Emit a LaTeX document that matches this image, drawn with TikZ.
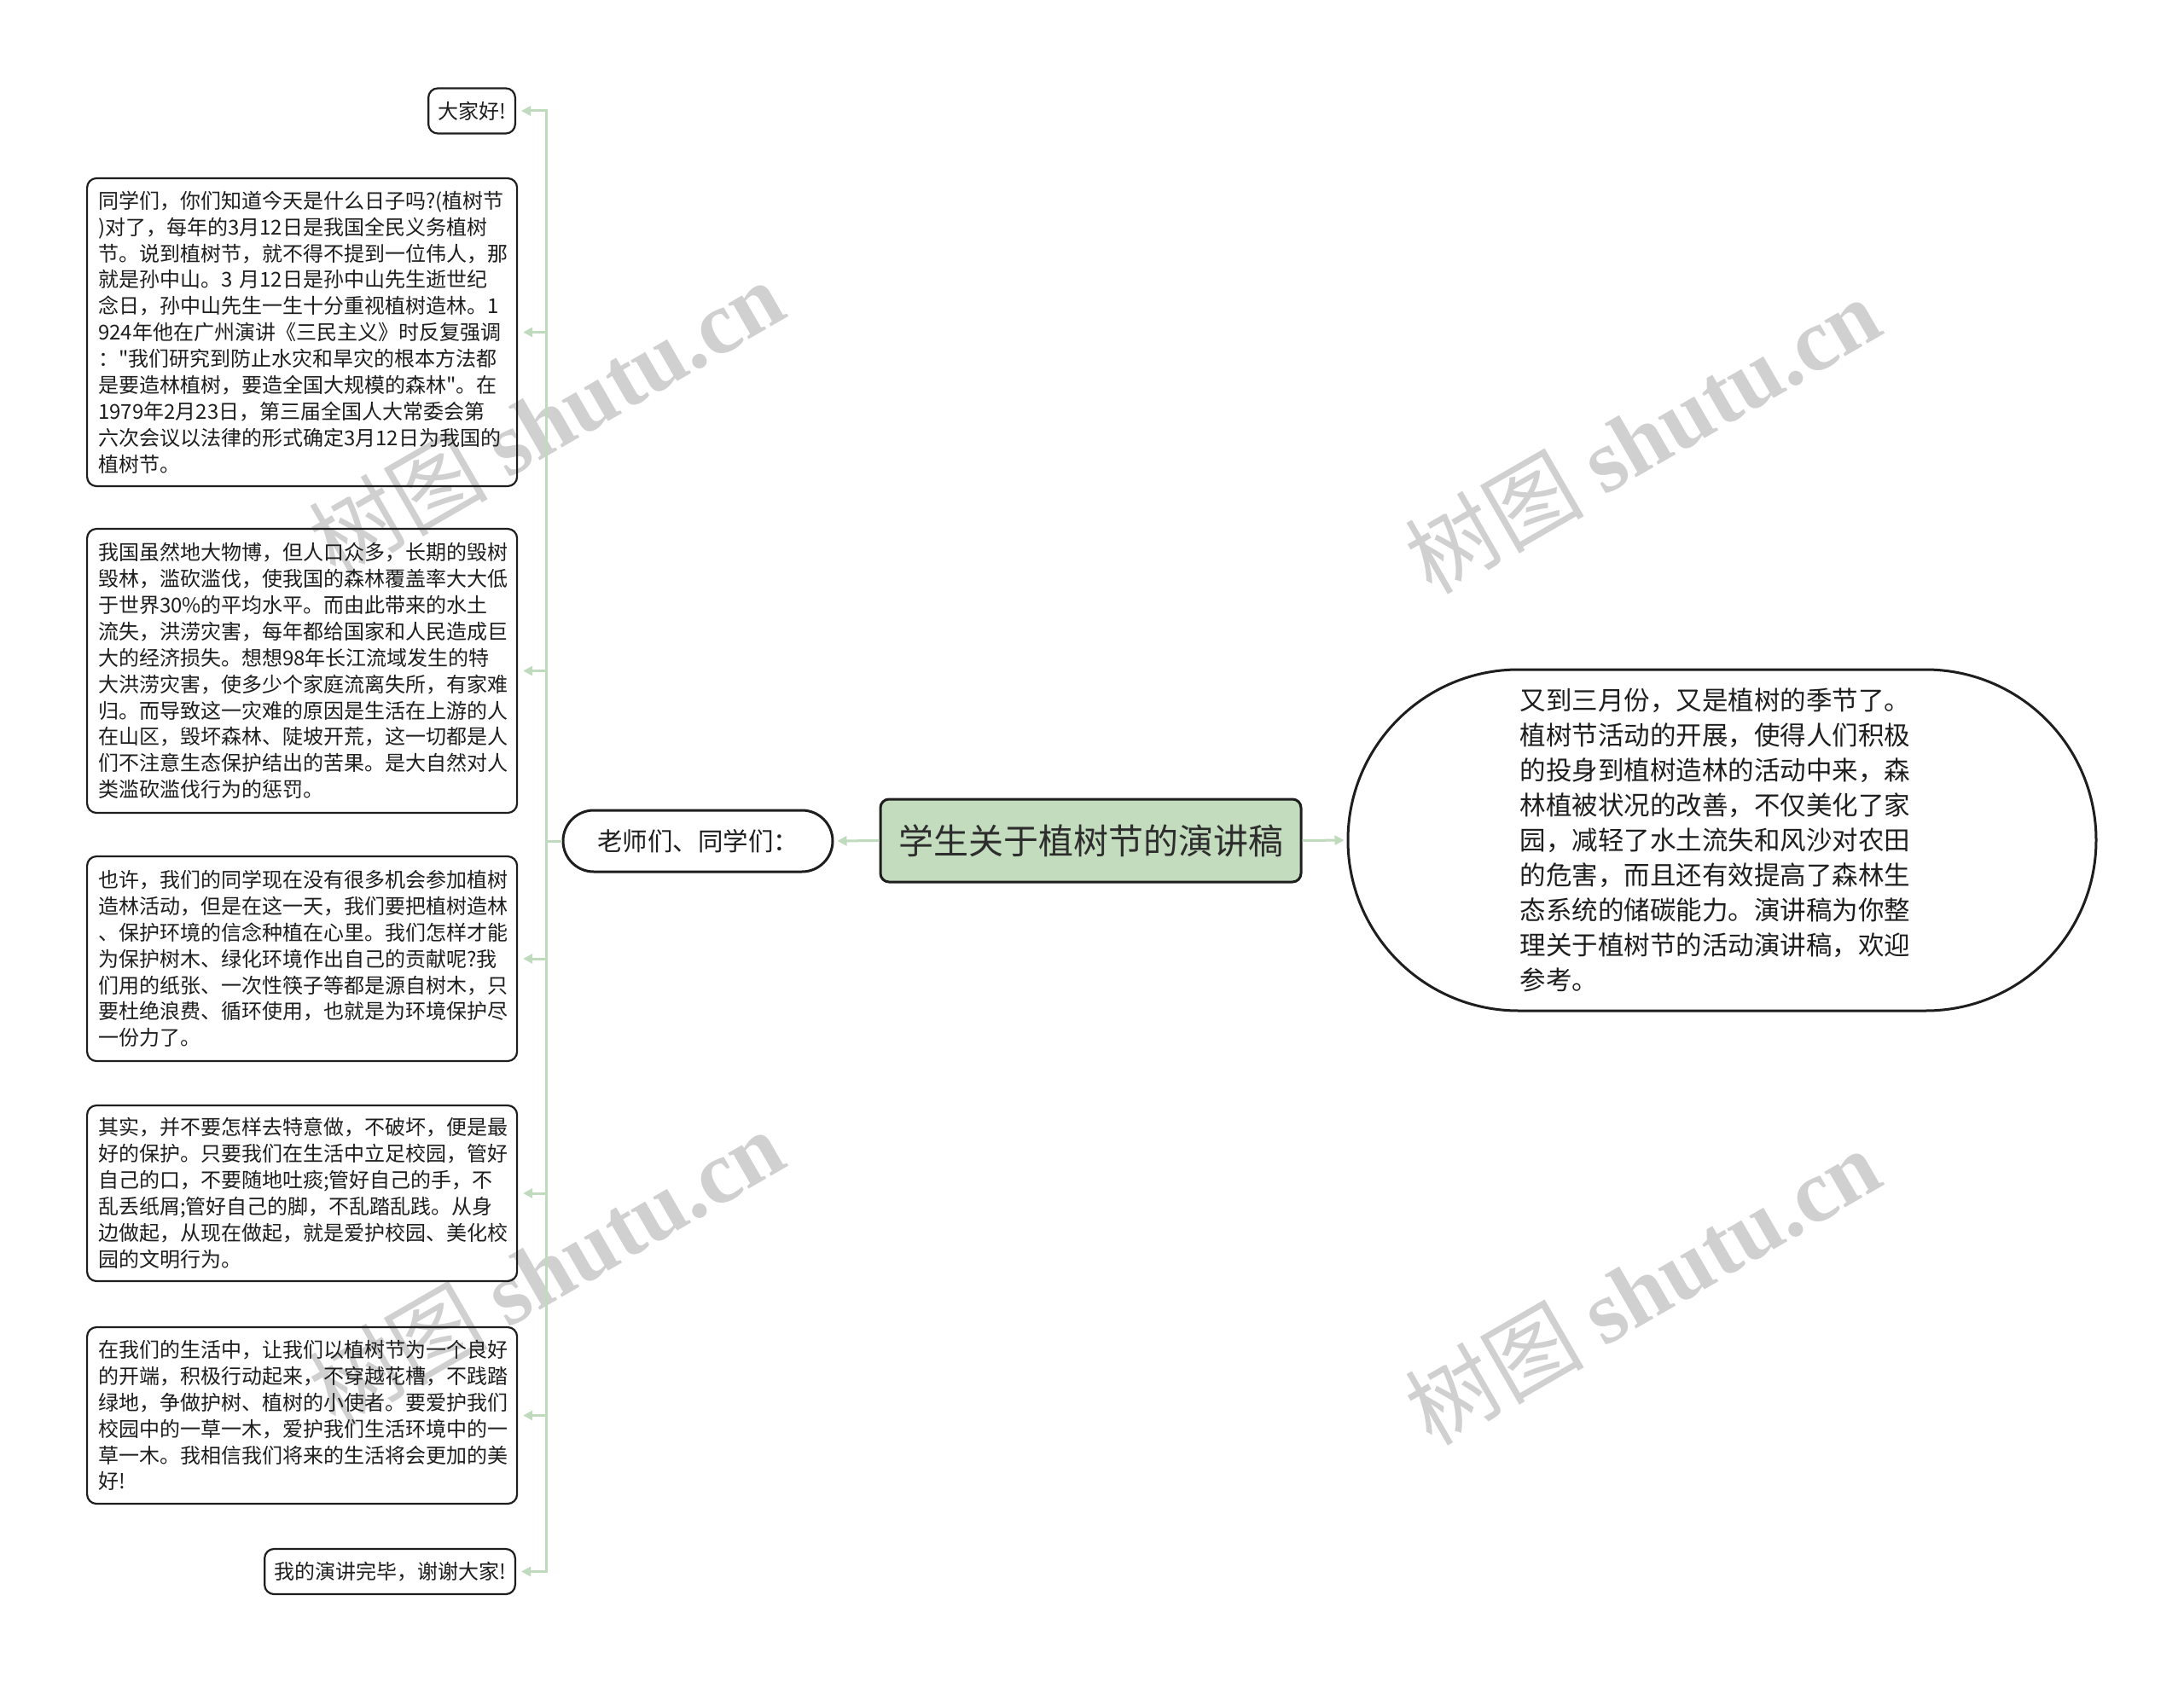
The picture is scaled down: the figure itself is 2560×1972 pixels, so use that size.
\documentclass[tikz,border=0pt]{standalone}
\usepackage{fontspec}
\setmainfont{Noto Sans CJK SC}[Ligatures=TeXOff]
\newfontfamily\wmlatin{Liberation Serif}
\usetikzlibrary{arrows.meta,shapes.misc}
\definecolor{connc}{RGB}{191,218,188}
\definecolor{rootfill}{RGB}{195,220,190}
\definecolor{inkc}{RGB}{30,30,30}
\definecolor{wmc}{RGB}{208,208,208}
\begin{document}
\begin{tikzpicture}[x=1pt,y=-1pt,
  leaf/.style={draw=inkc, line width=2.2pt, rounded corners=11pt, align=left, text=inkc,
    font=\fontsize{24}{30.9}\selectfont, inner xsep=13pt, inner ysep=0pt},
  bigleaf/.style={leaf, anchor=west, text width=478pt},
  smallleaf/.style={leaf, anchor=east, inner xsep=11pt, minimum height=53pt},
  rootbox/.style={draw=inkc, line width=3pt, rounded corners=10pt, fill=rootfill,
    text={rgb,255:red,45;green,45;blue,45}, font=\fontsize{41}{48}\selectfont,
    minimum width=493pt, minimum height=97pt, inner sep=0pt},
  pill/.style={rounded rectangle, draw=inkc, line width=3pt, text=inkc, inner sep=0pt},
  conn/.style={draw=connc, line width=3pt, -{Triangle[length=11pt,width=11pt]}},
  wm/.style={rotate=30, text=wmc, font=\fontsize{105}{110}\selectfont, inner sep=0pt}
]
\useasboundingbox (0,0) rectangle (2560,1972);
\fill[white] (0,0) rectangle (2560,1972);

% watermarks
\node[wm] (wm1) at (640,490) {树图 {\wmlatin\bfseries shutu.cn}};
\node[wm] (wm2) at (1925,510) {树图 {\wmlatin\bfseries shutu.cn}};
\node[wm] (wm3) at (640,1486) {树图 {\wmlatin\bfseries shutu.cn}};
\node[wm] (wm4) at (1925,1508) {树图 {\wmlatin\bfseries shutu.cn}};

% central nodes
\node[rootbox] (root) at (1278.5,985.5) {学生关于植树节的演讲稿};
\node[pill, minimum width=316pt, minimum height=72pt, font=\fontsize{29.5}{34}\selectfont]
  (lsm) at (818,986) {老师们、同学们：};
\node[pill, minimum width=877pt, minimum height=400pt, text width=474pt, align=left,
  font=\fontsize{30.5}{41}\selectfont] (intro) at (2018.5,985)
  {又到三月份，又是植树的季节了。\\植树节活动的开展，使得人们积极\\的投身到植树造林的活动中来，森\\林植被状况的改善，不仅美化了家\\园，减轻了水土流失和风沙对农田\\的危害，而且还有效提高了森林生\\态系统的储碳能力。演讲稿为你整\\理关于植树节的活动演讲稿，欢迎\\参考。};

% leaves
\node[smallleaf] (l1) at (605,130) {大家好!};
\node[bigleaf, minimum height=361pt] (l2) at (101,389.5)
  {同学们，你们知道今天是什么日子吗?(植树节\\)对了，每年的3月12日是我国全民义务植树\\节。说到植树节，就不得不提到一位伟人，那\\就是孙中山。3 月12日是孙中山先生逝世纪\\念日，孙中山先生一生十分重视植树造林。1\\924年他在广州演讲《三民主义》时反复强调\\："我们研究到防止水灾和旱灾的根本方法都\\是要造林植树，要造全国大规模的森林"。在\\1979年2月23日，第三届全国人大常委会第\\六次会议以法律的形式确定3月12日为我国的\\植树节。};
\node[bigleaf, minimum height=333pt] (l3) at (101,786.5)
  {我国虽然地大物博，但人口众多，长期的毁树\\毁林，滥砍滥伐，使我国的森林覆盖率大大低\\于世界30\%的平均水平。而由此带来的水土\\流失，洪涝灾害，每年都给国家和人民造成巨\\大的经济损失。想想98年长江流域发生的特\\大洪涝灾害，使多少个家庭流离失所，有家难\\归。而导致这一灾难的原因是生活在上游的人\\在山区，毁坏森林、陡坡开荒，这一切都是人\\们不注意生态保护结出的苦果。是大自然对人\\类滥砍滥伐行为的惩罚。};
\node[bigleaf, minimum height=240pt] (l4) at (101,1124)
  {也许，我们的同学现在没有很多机会参加植树\\造林活动，但是在这一天，我们要把植树造林\\、保护环境的信念种植在心里。我们怎样才能\\为保护树木、绿化环境作出自己的贡献呢?我\\们用的纸张、一次性筷子等都是源自树木，只\\要杜绝浪费、循环使用，也就是为环境保护尽\\一份力了。};
\node[bigleaf, minimum height=206pt] (l5) at (101,1399)
  {其实，并不要怎样去特意做，不破坏，便是最\\好的保护。只要我们在生活中立足校园，管好\\自己的口，不要随地吐痰;管好自己的手，不\\乱丢纸屑;管好自己的脚，不乱踏乱践。从身\\边做起，从现在做起，就是爱护校园、美化校\\园的文明行为。};
\node[bigleaf, minimum height=207pt] (l6) at (101,1659.5)
  {在我们的生活中，让我们以植树节为一个良好\\的开端，积极行动起来，不穿越花槽，不践踏\\绿地，争做护树、植树的小使者。要爱护我们\\校园中的一草一木，爱护我们生活环境中的一\\草一木。我相信我们将来的生活将会更加的美\\好!};
\node[smallleaf] (l7) at (605,1842.5) {我的演讲完毕，谢谢大家!};

% connectors
\draw[conn, shorten >=4pt] (root.west) -- (lsm.east);
\draw[conn, shorten >=3pt] (root.east) -- (intro.west);
\coordinate (trunk) at ([xshift=-18pt]lsm.west);
\foreach \leafname in {l1,l2,l3,l4,l5,l6,l7}{
  \draw[conn, shorten >=6pt] (lsm.west) -- (trunk) |- (\leafname.east);
}
\end{tikzpicture}
\end{document}
